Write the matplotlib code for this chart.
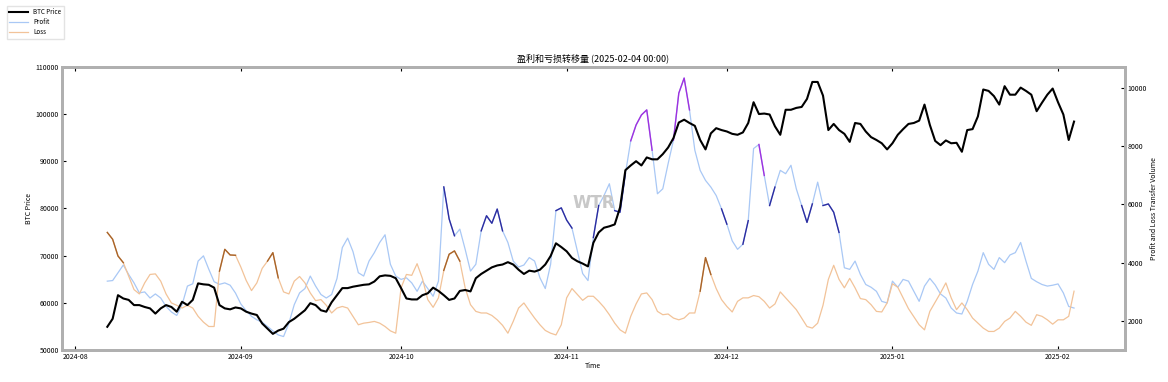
import numpy as np
import pandas as pd
import matplotlib
matplotlib.use('Agg')
import matplotlib.pyplot as plt
import matplotlib.dates as mdates

plt.rcParams['font.family'] = ['Noto Sans CJK SC', 'DejaVu Sans']

# daily values, 2024-08-07 .. 2025-02-04
btc_price = [
    54900, 56600, 61600, 60900, 60600, 59500, 59500, 59100, 58800, 57700,
    58800, 59500, 59100, 58100, 60200, 59500, 60600, 64100, 63900, 63800,
    63200, 59500, 58800, 58600, 59000, 58800, 58100, 57700, 57400, 55600,
    54500, 53400, 54100, 54500, 55900, 56600, 57500, 58400, 59900, 59500,
    58400, 58100, 60100, 61600, 63100, 63100, 63400, 63600, 63800, 63900,
    64500, 65600, 65800, 65700, 65200, 63100, 60900, 60700, 60700, 61600,
    62000, 63200, 62500, 61600, 60600, 60900, 62500, 62700, 62400, 65200,
    66100, 66800, 67500, 67900, 68100, 68600, 68100, 67000, 66100, 66800,
    66600, 67000, 68100, 69900, 72600, 71800, 70900, 69500, 68800, 68300,
    67700, 72700, 74900, 75900, 76200, 76600, 80200, 88100, 89100, 90000,
    89100, 90800, 90400, 90400, 91500, 92900, 94900, 98200, 98800, 98100,
    97500, 94500, 92500, 95900, 97000, 96600, 96300, 95800, 95600, 96100,
    98100, 102500, 100000, 100100, 99900, 97400, 95600, 100900, 100900, 101300,
    101500, 103200, 106800, 106800, 103900, 96600, 97900, 96600, 95800, 94100,
    98100, 97900, 96300, 95100, 94500, 93800, 92500, 93800, 95600, 96800,
    97900, 98100, 98600, 102000, 97700, 94300, 93400, 94400, 93800, 93900,
    92000, 96600, 96800, 99500, 105200, 104900, 103800, 102000, 105900, 104100,
    104100, 105600, 104900, 104100, 100600, 102400, 104100, 105400, 102500, 99900,
    94500, 98400,
]
profit_volume = [
    3360, 3380, 3650, 3915, 3590, 3300, 2955, 2990, 2780, 2920,
    2780, 2490, 2300, 2180, 2550, 3190, 3270, 4050, 4230, 3770,
    3340, 3250, 3300, 3220, 2950, 2575, 2345, 2150, 2030, 1950,
    1800, 1650, 1510, 1455, 1915, 2550, 2955, 3105, 3535, 3190,
    2900, 2780, 2900, 3450, 4515, 4840, 4375, 3650, 3535, 4050,
    4340, 4690, 4955, 3940, 3535, 3420, 3475, 3300, 3010, 3360,
    3105, 2840, 3360, 6600, 5500, 4920, 5150, 4455, 3705, 3940,
    5090, 5610, 5350, 5840, 5090, 4690, 4050, 3845, 3915, 4170,
    4050, 3475, 3105, 3940, 5785, 5880, 5460, 5185, 4400, 3620,
    3380, 4860, 5960, 6305, 6710, 5785, 5730, 7055, 8185, 8730,
    9075, 9250, 7865, 6365, 6535, 7400, 8210, 9825, 10345, 9250,
    7865, 7170, 6825, 6595, 6305, 5845, 5320, 4745, 4455, 4630,
    5440, 7920, 8060, 6995, 5960, 6595, 7170, 7055, 7345, 6535,
    5960, 5380, 6015, 6765, 5960, 6015, 5730, 5035, 3820, 3765,
    4050, 3590, 3245, 3150, 3010, 2665, 2610, 3360, 3150, 3420,
    3360, 3010, 2665, 3190, 3455, 3230, 2920, 2780, 2435, 2265,
    2230, 2665, 3245, 3705, 4340, 3940, 3765, 4170, 3995, 4260,
    4340, 4690, 4050, 3455, 3340, 3245, 3190, 3220, 3265, 2955,
    2490, 2435,
]
loss_volume = [
    5035, 4800, 4225, 3995, 3535, 3070, 2920, 3300, 3590, 3610,
    3360, 2920, 2610, 2530, 2435, 2530, 2435, 2150, 1950, 1800,
    1800, 3705, 4455, 4260, 4250, 3845, 3385, 3035, 3300, 3800,
    4050, 4340, 3475, 2990, 2920, 3360, 3520, 3300, 2955, 2690,
    2725, 2530, 2265, 2435, 2490, 2435, 2150, 1860, 1915, 1940,
    1975, 1915, 1800, 1650, 1570, 3130, 3590, 3560, 3960, 3450,
    2725, 2460, 2785, 3730, 4285, 4400, 4050, 3130, 2550, 2320,
    2265, 2265, 2180, 2030, 1840, 1570, 1975, 2435, 2610, 2345,
    2090, 1860, 1665, 1570, 1510, 1860, 2785, 3105, 2900, 2700,
    2840, 2840, 2665, 2460, 2205, 1915, 1685, 1570, 2150, 2575,
    2920, 2955, 2725, 2320, 2205, 2230, 2090, 2030, 2090, 2265,
    2265, 3015, 4170, 3590, 3105, 2725, 2490, 2300, 2665, 2785,
    2785, 2865, 2825, 2665, 2435, 2575, 2990, 2785, 2575, 2380,
    2090, 1800, 1745, 1915, 2530, 3420, 3905, 3420, 3130, 3455,
    3130, 2760, 2725, 2550, 2320, 2300, 2610, 3270, 3150, 2785,
    2415, 2135, 1860, 1685, 2320, 2640, 2955, 3300, 2785, 2380,
    2610, 2380, 2090, 1915, 1745, 1630, 1630, 1745, 1975, 2090,
    2320, 2150, 1950, 1840, 2205, 2150, 2030, 1880, 2030, 2030,
    2150, 3015,
]

# stretches drawn in a stronger colour
profit_dark = [
    ('2024-10-09 12:00', '2024-10-10 14:00'), ('2024-10-15 18:00', '2024-10-19 12:00'),
    ('2024-10-29 16:00', '2024-11-02 03:00'), ('2024-11-06 12:00', '2024-11-07 10:00'),
    ('2024-11-10 05:00', '2024-11-11 12:00'), ('2024-11-30 10:00', '2024-12-01 07:00'),
    ('2024-12-04 12:00', '2024-12-05 06:00'), ('2024-12-08 18:00', '2024-12-09 14:00'),
    ('2024-12-14 16:00', '2024-12-16 22:00'), ('2024-12-19 00:00', '2024-12-21 19:00'),
]
profit_peak = [
    ('2024-11-12 16:00', '2024-11-16 16:00'), ('2024-11-21 02:00', '2024-11-24 05:00'),
    ('2024-12-06 14:00', '2024-12-07 12:00'),
]
loss_dark = [
    ('2024-08-07 00:00', '2024-08-10 08:00'), ('2024-08-28 00:00', '2024-08-31 10:00'),
    ('2024-09-06 12:00', '2024-09-07 12:00'), ('2024-10-09 12:00', '2024-10-12 00:00'),
    ('2024-11-26 12:00', '2024-11-27 12:00'),
]

dates = pd.date_range('2024-08-07', periods=len(btc_price), freq='D')


def draw_runs(ax, y, ranges, color, lw):
    y = np.asarray(y)
    mid = dates[:-1] + (dates[1:] - dates[:-1]) / 2
    for start, end in ranges:
        idx = np.where((mid >= pd.Timestamp(start)) & (mid <= pd.Timestamp(end)))[0]
        if len(idx) == 0:
            continue
        sl = slice(idx[0], idx[-1] + 2)
        ax.plot(dates[sl], y[sl], color=color, lw=lw, zorder=3)


fig = plt.figure(figsize=(11.68, 3.82), dpi=100)
ax = fig.add_axes([0.053, 0.084, 0.910, 0.741])
ax2 = ax.twinx()

l_btc, = ax.plot(dates, btc_price, color='black', lw=1.5, zorder=5, label='BTC Price')
l_pro, = ax2.plot(dates, profit_volume, color='#a9c8f5', lw=0.9, label='Profit')
l_los, = ax2.plot(dates, loss_volume, color='#f2c399', lw=0.9, label='Loss')
draw_runs(ax2, profit_volume, profit_dark, '#2c2ca0', 1.0)
draw_runs(ax2, profit_volume, profit_peak, '#a030e0', 1.0)
draw_runs(ax2, loss_volume, loss_dark, '#a8642a', 1.0)

ax.set_zorder(ax2.get_zorder() + 1)
ax.patch.set_visible(False)

ax.set_ylim(50000, 110000)
ax2.set_ylim(995, 10730)
ax.set_xlim(pd.Timestamp('2024-07-29 12:00'), pd.Timestamp('2025-02-13 12:00'))
ax.set_yticks(np.arange(50000, 110001, 10000))
ax2.set_yticks(np.arange(2000, 10001, 2000))
ax.xaxis.set_major_locator(mdates.MonthLocator())
ax.xaxis.set_major_formatter(mdates.DateFormatter('%Y-%m'))

for a in (ax, ax2):
    for s in a.spines.values():
        s.set_color('#b0b0b0')
        s.set_linewidth(2)
    a.tick_params(direction='in', length=3, width=0.8, labelsize=5, pad=2)
ax.tick_params(axis='x', top=True)

ax.set_title('盈利和亏损转移量 (2025-02-04 00:00)', fontsize=6.5, pad=4)
ax.set_xlabel('Time', fontsize=5, labelpad=1)
ax.set_ylabel('BTC Price', fontsize=5)
ax.yaxis.set_label_coords(-0.027, 0.5)
ax2.set_ylabel('Profit and Loss Transfer Volume', fontsize=5)
ax2.yaxis.set_label_coords(1.024, 0.5)

ax.text(0.5, 0.52, 'WTR', transform=ax.transAxes, fontsize=12, fontweight='bold',
        color='#c8c8c8', ha='center', va='center', family='DejaVu Sans', zorder=0)

fig.legend(handles=[l_btc, l_pro, l_los], loc='upper left', bbox_to_anchor=(0.003, 0.993),
           fontsize=4.5, frameon=True, edgecolor='#dddddd', fancybox=False,
           handlelength=3, borderpad=0.4, labelspacing=0.3)

fig.savefig('out.png', dpi=100)
